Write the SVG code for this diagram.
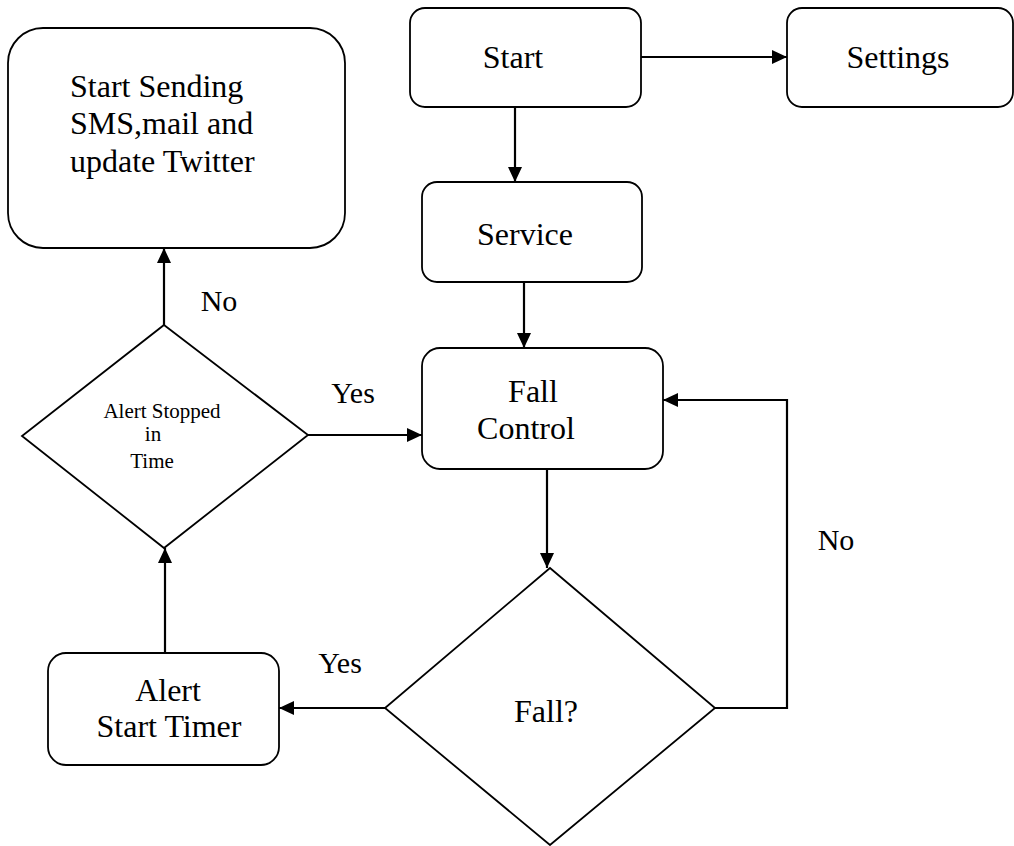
<svg xmlns="http://www.w3.org/2000/svg" width="1014" height="846" viewBox="0 0 1014 846">
<defs>
<marker id="ah" markerUnits="userSpaceOnUse" markerWidth="15" markerHeight="14" refX="15" refY="7" orient="auto">
<path d="M0,0 L15,7 L0,14 Z" fill="#000"/>
</marker>
<style>
.box{fill:#fff;stroke:#000;stroke-width:1.8}
.t{font-family:"Liberation Serif","Times New Roman",serif;font-size:32px;fill:#000}
.m{text-anchor:middle}
.s{font-size:21px}
.l{font-size:30px}
.c{fill:none;stroke:#000;stroke-width:2.2}
</style>
</defs>
<rect width="1014" height="846" fill="#fff"/>
<g id="connectors">
<path class="c" d="M641,57 H787" marker-end="url(#ah)"/>
<path class="c" d="M515,107 V182" marker-end="url(#ah)"/>
<path class="c" d="M524,282 V348" marker-end="url(#ah)"/>
<path class="c" d="M547,469 V568" marker-end="url(#ah)"/>
<path class="c" d="M715,708 H787 V400 H663" marker-end="url(#ah)"/>
<path class="c" d="M385,708 H279" marker-end="url(#ah)"/>
<path class="c" d="M165,653 V548" marker-end="url(#ah)"/>
<path class="c" d="M308,435 H422" marker-end="url(#ah)"/>
<path class="c" d="M164,325 V248" marker-end="url(#ah)"/>
</g>
<g id="sending">
<rect class="box" x="8" y="28" width="337" height="220" rx="35" ry="35"/>
<text class="t" x="70" y="97">Start Sending</text>
<text class="t" x="70" y="134">SMS,mail and</text>
<text class="t" x="70" y="172">update Twitter</text>
</g>
<g id="start">
<rect class="box" x="410" y="8" width="231" height="99" rx="15" ry="15"/>
<text class="t m" x="513" y="68">Start</text>
</g>
<g id="settings">
<rect class="box" x="787" y="8" width="226" height="99" rx="15" ry="15"/>
<text class="t m" x="898" y="68">Settings</text>
</g>
<g id="service">
<rect class="box" x="422" y="182" width="220" height="100" rx="15" ry="15"/>
<text class="t m" x="525" y="245">Service</text>
</g>
<g id="fallcontrol">
<rect class="box" x="422" y="348" width="241" height="121" rx="18" ry="18"/>
<text class="t m" x="533" y="402">Fall</text>
<text class="t m" x="526" y="439">Control</text>
</g>
<g id="fall">
<polygon class="box" points="550,568 715,708 550,845 385,708"/>
<text class="t m" x="546" y="722">Fall?</text>
</g>
<g id="alert">
<rect class="box" x="48" y="653" width="231" height="112" rx="18" ry="18"/>
<text class="t m" x="168" y="701">Alert</text>
<text class="t m" x="169" y="737">Start Timer</text>
</g>
<g id="stopped">
<polygon class="box" points="164,325 308,435 164,548 22,436"/>
<text class="t m s" x="162" y="418">Alert Stopped</text>
<text class="t m s" x="153" y="441">in</text>
<text class="t m s" x="152" y="468">Time</text>
</g>
<g id="labels">
<text class="t m l" x="219" y="311">No</text>
<text class="t m l" x="353" y="403">Yes</text>
<text class="t m l" x="340" y="673">Yes</text>
<text class="t m l" x="836" y="550">No</text>
</g>
</svg>
